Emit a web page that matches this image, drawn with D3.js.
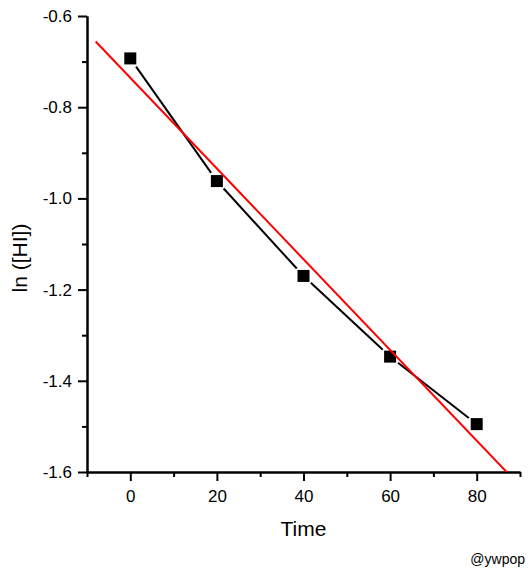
<!DOCTYPE html>
<html>
<head>
<meta charset="utf-8">
<title>ln([HI]) vs Time</title>
<script src="https://d3js.org/d3.v7.min.js"></script>
<style>
  body { margin: 0; background: #fff; }
  svg { display: block; font-family: "Liberation Sans", Arial, sans-serif; }
  .axis path, .axis line { stroke: #000; stroke-width: 2; }
  .axis text { font-size: 17px; fill: #000; }
</style>
</head>
<body>
<div class="graph"></div>
<script>
  /* data */
  const times = [0, 20, 40, 60, 80];
  const lnHI = [-0.693, -0.962, -1.170, -1.347, -1.495];
  const xMajorTicks = [0, 20, 40, 60, 80];
  const xMinorTicks = [-10, 10, 30, 50, 70, 90];
  const yMajorTicks = [-0.6, -0.8, -1.0, -1.2, -1.4, -1.6];
  const yMinorTicks = [-0.7, -0.9, -1.1, -1.3, -1.5];
  const fitRange = [-8, 88];

  const W = 530, H = 574;
  const margin = { left: 87, right: 520, top: 16, bottom: 472 };

  const x = d3.scaleLinear().domain([-10, 90]).range([margin.left, margin.right]);
  const y = d3.scaleLinear().domain([-1.6, -0.6]).range([margin.bottom, margin.top]);

  const svg = d3.select('.graph')
    .append('svg')
    .attr('width', W)
    .attr('height', H);

  svg.append('defs').append('clipPath')
    .attr('id', 'plot')
    .append('rect')
    .attr('x', margin.left).attr('y', margin.top)
    .attr('width', margin.right - margin.left).attr('height', margin.bottom - margin.top);

  /* axes */
  svg.append('g')
    .attr('class', 'axis')
    .attr('transform', `translate(0,${margin.bottom})`)
    .call(d3.axisBottom(x).tickValues(xMinorTicks).tickSize(5).tickSizeOuter(0).tickFormat(''));

  svg.append('g')
    .attr('class', 'axis')
    .attr('transform', `translate(0,${margin.bottom})`)
    .call(d3.axisBottom(x).tickValues(xMajorTicks).tickSize(9).tickSizeOuter(0).tickPadding(9).tickFormat(d3.format('d')));

  svg.append('g')
    .attr('class', 'axis')
    .attr('transform', `translate(${margin.left},0)`)
    .call(d3.axisLeft(y).tickValues(yMinorTicks).tickSize(5).tickSizeOuter(0).tickFormat(''));

  svg.append('g')
    .attr('class', 'axis')
    .attr('transform', `translate(${margin.left},0)`)
    .call(d3.axisLeft(y).tickValues(yMajorTicks).tickSize(9).tickSizeOuter(0).tickPadding(6)
      .tickFormat(d => d3.format('.1f')(d).replace('−', '-')));

  /* connecting line, with a gap round each marker */
  const gap = 10;
  const pts = times.map((t, i) => [x(t), y(lnHI[i])]);
  const segs = d3.pairs(pts).map(([a, b]) => {
    const dx = b[0] - a[0], dy = b[1] - a[1];
    const len = Math.hypot(dx, dy);
    const ux = dx / len, uy = dy / len;
    return [a[0] + ux * gap, a[1] + uy * gap, b[0] - ux * gap, b[1] - uy * gap];
  });

  svg.selectAll('.seg')
    .data(segs)
    .enter()
    .append('line')
    .attr('class', 'seg')
    .attr('x1', d => d[0]).attr('y1', d => d[1])
    .attr('x2', d => d[2]).attr('y2', d => d[3])
    .attr('stroke', '#000')
    .attr('stroke-width', 2);

  /* markers */
  const size = 12;
  svg.selectAll('.pt')
    .data(times)
    .enter()
    .append('rect')
    .attr('class', 'pt')
    .attr('x', (d, i) => x(d) - size / 2)
    .attr('y', (d, i) => y(lnHI[i]) - size / 2)
    .attr('width', size)
    .attr('height', size)
    .attr('fill', '#000');

  /* linear fit */
  const mx = d3.mean(times), my = d3.mean(lnHI);
  const slope = d3.sum(times, (t, i) => (t - mx) * (lnHI[i] - my)) / d3.sum(times, t => (t - mx) ** 2);
  const icpt = my - slope * mx;

  svg.append('path')
    .datum(fitRange)
    .attr('clip-path', 'url(#plot)')
    .attr('fill', 'none')
    .attr('stroke', '#f00')
    .attr('stroke-width', 2)
    .attr('d', d3.line().x(d => x(d)).y(d => y(icpt + slope * d)));

  /* labels */
  svg.append('text')
    .attr('x', (margin.left + margin.right) / 2)
    .attr('y', 536)
    .attr('text-anchor', 'middle')
    .attr('font-size', 21)
    .text('Time');

  svg.append('text')
    .attr('transform', 'translate(27,258) rotate(-90)')
    .attr('text-anchor', 'middle')
    .attr('font-size', 21)
    .text('ln ([HI])');

  svg.append('text')
    .attr('x', 525)
    .attr('y', 564)
    .attr('text-anchor', 'end')
    .attr('font-size', 14)
    .text('@ywpop');
</script>
</body>
</html>
